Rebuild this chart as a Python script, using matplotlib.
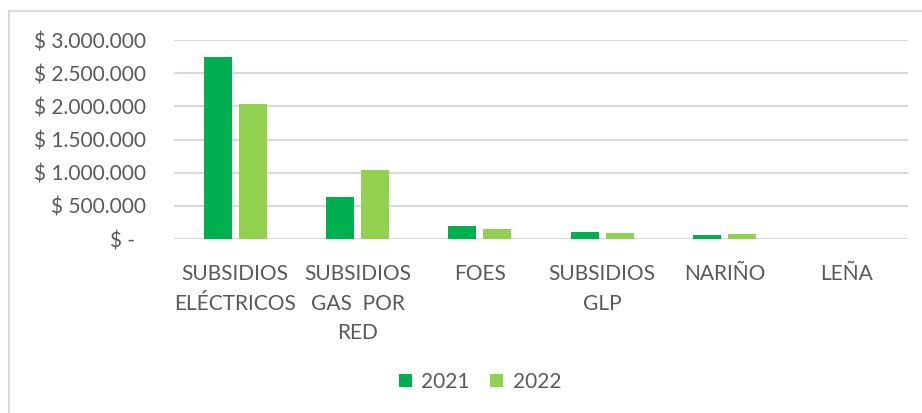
import matplotlib
matplotlib.use("Agg")
import matplotlib.pyplot as plt
from matplotlib.patches import Rectangle
from matplotlib.ticker import FuncFormatter, MultipleLocator
import numpy as np

categories = ["SUBSIDIOS\nELÉCTRICOS", "SUBSIDIOS\nGAS  POR\nRED", "FOES",
              "SUBSIDIOS\nGLP", "NARIÑO", "LEÑA"]
series_names = ["2021", "2022"]
values_2021 = [2740000, 633000, 196000, 105000, 60000, 0]
values_2022 = [2030000, 1045000, 151000, 86000, 75000, 4000]
colors = ["#00B050", "#92D050"]

plt.rcParams['font.family'] = ['Lato', 'DejaVu Sans']

fig = plt.figure(figsize=(9.22, 4.13), dpi=100)
W, H = 922, 413
ax = fig.add_axes([174 / W, 1 - 239 / H, (908 - 174) / W, (239 - 40) / H])

x = np.arange(len(categories))
bw = 28 / 122.3
gap = 7 / 122.3
ax.bar(x - (bw + gap) / 2, values_2021, width=bw, color=colors[0], label=series_names[0], zorder=3)
ax.bar(x + (bw + gap) / 2, values_2022, width=bw, color=colors[1], label=series_names[1], zorder=3)

ax.set_xlim(-0.5, len(categories) - 0.5)
ax.set_ylim(0, 3000000)
ax.yaxis.set_major_locator(MultipleLocator(500000))

def fmt(v, pos):
    if v == 0:
        return "$ -  "
    return "$ " + f"{int(v):,}".replace(",", ".")

ax.yaxis.set_major_formatter(FuncFormatter(fmt))
ax.grid(axis='y', color='#d9d9d9', linewidth=1.5, zorder=0)
for s in ax.spines.values():
    s.set_visible(False)
ax.tick_params(axis='both', length=0, labelsize=15, colors='#595959')
ax.tick_params(axis='y', pad=20.5)
ax.tick_params(axis='x', pad=18)
ax.set_xticks(x)
ax.set_xticklabels(categories, linespacing=1.6)

leg = fig.legend(loc='center', bbox_to_anchor=(480 / W, 1 - 382 / H), ncol=2, frameon=False,
                 fontsize=15, handlelength=0.62, handleheight=0.62, handletextpad=0.45,
                 columnspacing=1.0)
for t in leg.get_texts():
    t.set_color('#595959')

fig.patches.append(Rectangle((8.5 / W, -0.1), 1.2, 1 - 11 / H + 0.1, transform=fig.transFigure,
                             fill=False, edgecolor='#d9d9d9', linewidth=1.5))

fig.savefig("out.png", dpi=100)
